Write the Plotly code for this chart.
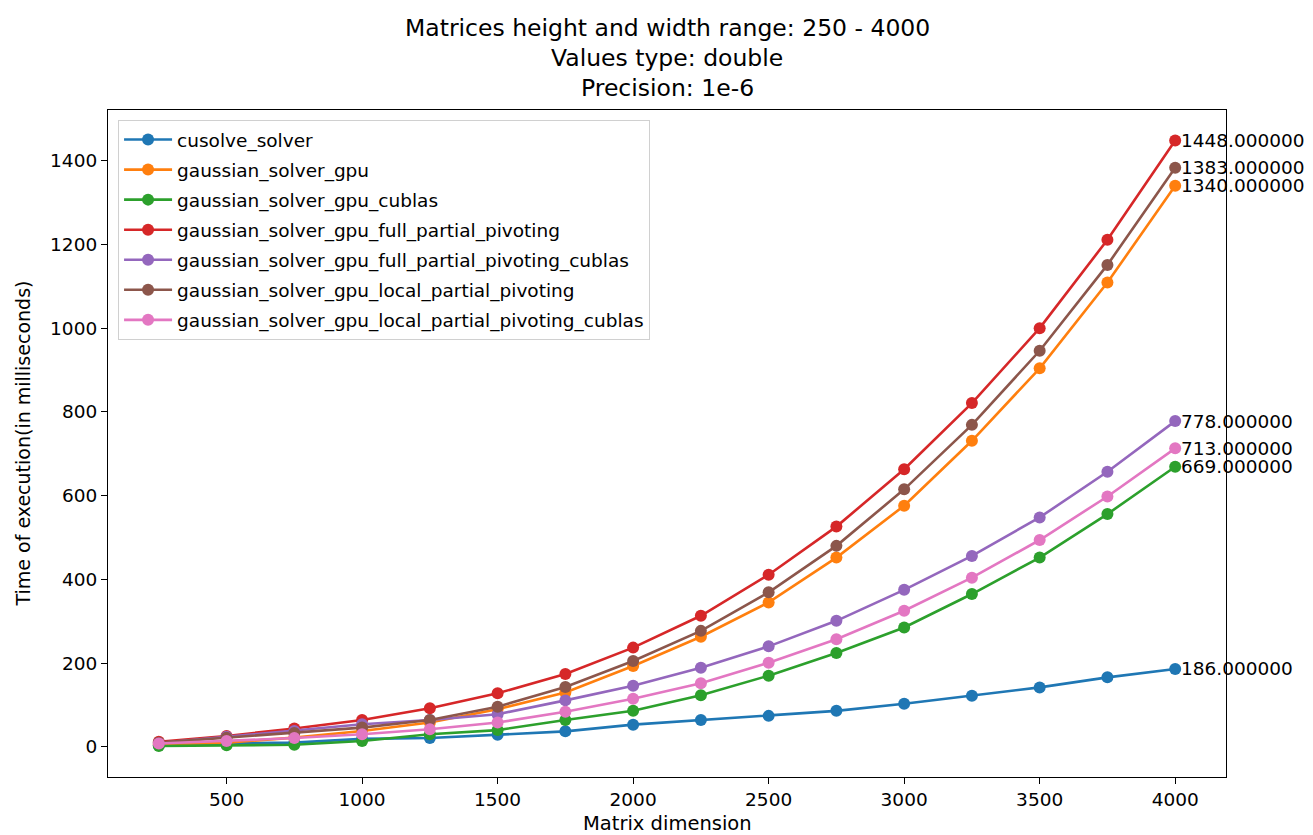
import plotly.graph_objects as go

matrix_dims = [250, 500, 750, 1000, 1250, 1500, 1750, 2000, 2250, 2500, 2750, 3000, 3250, 3500, 3750, 4000]

cusolve_solver = [4, 8, 10, 19, 21, 29, 37, 53, 64, 74, 86, 103, 122, 142, 166, 186]
gaussian_solver_gpu = [6, 10, 22, 38, 58, 90, 130, 193, 263, 345, 452, 576, 731, 904, 1109, 1340]
gaussian_solver_gpu_cublas = [2, 4, 5, 14, 30, 40, 64, 86, 123, 170, 224, 285, 365, 452, 556, 669]
gaussian_solver_gpu_full_partial_pivoting = [12, 26, 44, 64, 92, 128, 174, 237, 313, 411, 526, 663, 821, 1000, 1211, 1448]
gaussian_solver_gpu_full_partial_pivoting_cublas = [9, 24, 38, 54, 64, 78, 111, 146, 189, 240, 301, 375, 456, 548, 657, 778]
gaussian_solver_gpu_local_partial_pivoting = [10, 22, 33, 46, 64, 96, 143, 205, 277, 369, 480, 615, 769, 946, 1151, 1383]
gaussian_solver_gpu_local_partial_pivoting_cublas = [8, 14, 21, 30, 42, 58, 84, 115, 152, 201, 257, 325, 404, 494, 598, 713]

series_names = [
    "cusolve_solver",
    "gaussian_solver_gpu",
    "gaussian_solver_gpu_cublas",
    "gaussian_solver_gpu_full_partial_pivoting",
    "gaussian_solver_gpu_full_partial_pivoting_cublas",
    "gaussian_solver_gpu_local_partial_pivoting",
    "gaussian_solver_gpu_local_partial_pivoting_cublas",
]
series_values = [
    cusolve_solver,
    gaussian_solver_gpu,
    gaussian_solver_gpu_cublas,
    gaussian_solver_gpu_full_partial_pivoting,
    gaussian_solver_gpu_full_partial_pivoting_cublas,
    gaussian_solver_gpu_local_partial_pivoting,
    gaussian_solver_gpu_local_partial_pivoting_cublas,
]
colors = ["#1f77b4", "#ff7f0e", "#2ca02c", "#d62728", "#9467bd", "#8c564b", "#e377c2"]

title_lines = ["Matrices height and width range: 250 - 4000", "Values type: double", "Precision: 1e-6"]
x_title = "Matrix dimension"
y_title = "Time of execution(in milliseconds)"

FONT = "DejaVu Sans"
# page body has an 8px margin; figure sized to fit the window
W, H = 1305, 827
L, R, T, B = 100, 87, 102, 58
plot_h = H - T - B
plot_w = W - L - R

fig = go.Figure()
for i, (name, vals, col) in enumerate(zip(series_names, series_values, colors)):
    fig.add_trace(go.Scatter(
        x=matrix_dims, y=vals, name=name, mode="lines+markers",
        line=dict(color=col, width=2.6),
        marker=dict(color=col, size=12),
        legendgroup=f"g{i}",
    ))

for vals in series_values:
    fig.add_annotation(
        x=matrix_dims[-1], y=vals[-1], text=f"{vals[-1]:.6f}",
        xref="x", yref="y", xanchor="left", yanchor="middle",
        xshift=4, showarrow=False,
        font=dict(family=FONT, size=18.5, color="#000000"),
    )

# title lines centred at screen y = 28, 58, 88
for k, line in enumerate(title_lines):
    fig_y = 28 + 30 * k - 8
    fig.add_annotation(
        x=0.5, y=1 + (T - fig_y) / plot_h, xref="paper", yref="paper",
        xanchor="center", yanchor="middle", showarrow=False, text=line,
        font=dict(family=FONT, size=23.5, color="#000000"),
    )

# axis titles
fig.add_annotation(
    x=0.5, y=-(823 - 8 - (H - B)) / plot_h, xref="paper", yref="paper",
    xanchor="center", yanchor="middle", showarrow=False, text=x_title,
    font=dict(family=FONT, size=19.5, color="#000000"),
)
fig.add_annotation(
    x=(22 - 8 - L) / plot_w, y=0.5, xref="paper", yref="paper",
    xanchor="center", yanchor="middle", showarrow=False, text=y_title,
    textangle=-90,
    font=dict(family=FONT, size=19, color="#000000"),
)

fig.update_layout(
    width=W, height=H,
    paper_bgcolor="white", plot_bgcolor="white",
    margin=dict(l=L, r=R, t=T, b=B),
    font=dict(family=FONT, size=18.5, color="#000000"),
    legend=dict(
        x=0.009, y=0.985, xanchor="left", yanchor="top",
        bgcolor="rgba(255,255,255,0.8)", bordercolor="#d0d0d0", borderwidth=1,
        font=dict(family=FONT, size=18.5, color="#000000"),
        traceorder="grouped", tracegroupgap=3,
        itemwidth=48,
    ),
    xaxis=dict(
        range=[62.5, 4187.5],
        tickvals=[500, 1000, 1500, 2000, 2500, 3000, 3500, 4000],
        showgrid=False, zeroline=False,
        showline=True, linecolor="black", linewidth=1.2, mirror=True,
        ticks="outside", ticklen=6, tickwidth=1.2, tickcolor="black",
        tickfont=dict(family=FONT, size=18.5),
    ),
    yaxis=dict(
        range=[-72, 1521],
        tickvals=[0, 200, 400, 600, 800, 1000, 1200, 1400],
        showgrid=False, zeroline=False,
        showline=True, linecolor="black", linewidth=1.2, mirror=True,
        ticks="outside", ticklen=6, tickwidth=1.2, tickcolor="black",
        tickfont=dict(family=FONT, size=18.5),
    ),
)

fig.write_html("out.html")
